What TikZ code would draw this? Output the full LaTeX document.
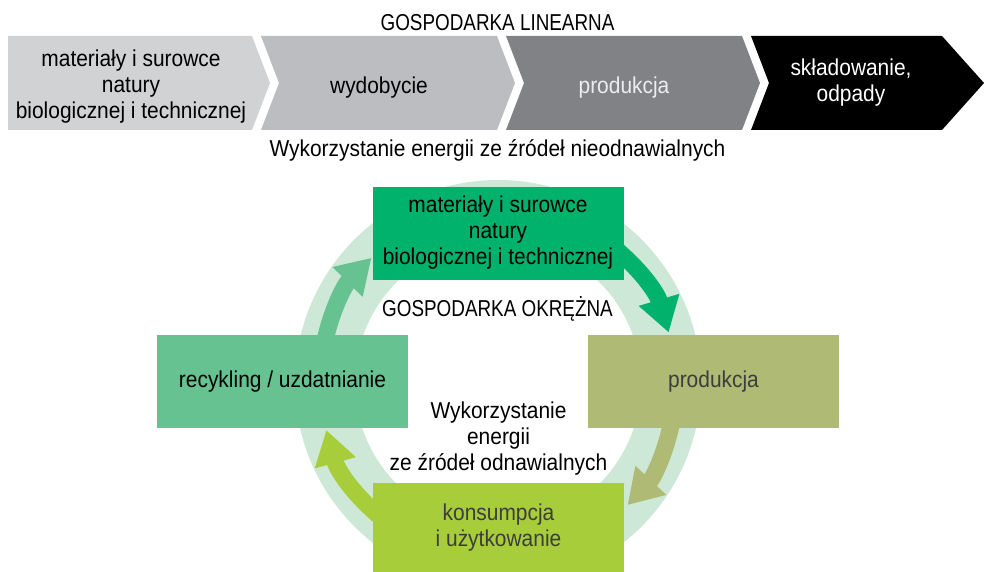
\documentclass[tikz,border=0pt]{standalone}
\usepackage{fontspec}
\setmainfont{Liberation Sans}[FakeStretch=0.91]
\newfontfamily\capsfont{Liberation Sans}[FakeStretch=0.82]
\usetikzlibrary{arrows.meta,calc}

% linear economy strip
\definecolor{linA}{HTML}{D1D2D4}
\definecolor{linB}{HTML}{BCBDC0}
\definecolor{linC}{HTML}{808285}
\definecolor{linD}{HTML}{000000}
\definecolor{linTxt}{HTML}{EDEDED}
% circular economy
\definecolor{ringc}{HTML}{CDE8D7}
\definecolor{cirTop}{HTML}{00B26B}
\definecolor{cirRec}{HTML}{66C290}
\definecolor{cirProd}{HTML}{AFBA74}
\definecolor{cirCons}{HTML}{A8CD3A}
\definecolor{txtDark}{HTML}{3D3D3D}

\begin{document}
\begin{tikzpicture}[x=1pt,y=-1pt,
  lbl/.style={font=\fontsize{23}{26}\selectfont, align=center, inner sep=0pt},
  ttl/.style={font=\capsfont\fontsize{23}{26}\selectfont, inner sep=0pt, anchor=base},
  cbox/.style={minimum width=251pt, minimum height=93pt, inner sep=0pt, align=center,
               font=\fontsize{23}{26}\selectfont},
  flow/.style={line width=17pt, -{Triangle[width=40pt,length=34pt]}},
]
\useasboundingbox (0,0) rectangle (984,572);

% ---------- linear economy ----------
\node[ttl] (lt) at (497.5,31) {GOSPODARKA LINEARNA};

\fill[linA] (8,36) -- (252,36) -- (270,83) -- (252,130) -- (8,130) -- cycle;
\fill[linB] (261,36) -- (497,36) -- (515,83) -- (497,130) -- (261,130) -- (279,83) -- cycle;
\fill[linC] (506,36) -- (742,36) -- (760,83) -- (742,130) -- (506,130) -- (524,83) -- cycle;
\fill[linD] (751,36) -- (942,36) -- (984,83) -- (942,130) -- (751,130) -- (769,83) -- cycle;

\node[lbl] (l1) at (131,87) {materiały i surowce\\natury\\biologicznej i technicznej};
\node[lbl] (l2) at (379,88) {wydobycie};
\node[lbl, text=linTxt] (l3) at (624,88) {produkcja};
\node[lbl, text=white] (l4) at (851,82.5) {składowanie,\\odpady};

\node[lbl, anchor=base] (lsub) at (497.5,157) {Wykorzystanie energii ze źródeł nieodnawialnych};

% ---------- circular economy ----------
\coordinate (c) at (498,383);
\draw[ringc, line width=60pt] (c) circle[radius=173];

\coordinate (a1s) at ($(c)+(-60:178)$);
\coordinate (a2s) at ($(c)+(5:178)$);
\coordinate (a3s) at ($(c)+(120:178)$);
\coordinate (a4s) at ($(c)+(-175:178)$);
\draw[flow, cirTop]  (a1s) arc[start angle=-60,  end angle=-16.5, radius=178];
\draw[flow, cirProd] (a2s) arc[start angle=5,    end angle=43.3,  radius=178];
\draw[flow, cirCons] (a3s) arc[start angle=120,  end angle=164.7, radius=178];
\draw[flow, cirRec]  (a4s) arc[start angle=-175, end angle=-135.3, radius=178];

\node[cbox, fill=cirTop] (mat) at (498,233) {materiały i surowce\\natury\\biologicznej i technicznej};
\node[cbox, fill=cirRec] (rec) at (282.5,381.5) {recykling / uzdatnianie};
\node[cbox, fill=cirProd, text=txtDark] (prd) at (713.5,381.5) {produkcja};
\node[cbox, fill=cirCons, text=txtDark, minimum height=89pt] (con) at (498.5,527.5) {konsumpcja\\i użytkowanie};

\node[ttl] (ct) at (497.5,316.5) {GOSPODARKA OKRĘŻNA};
\node[lbl] (csub) at (498.5,439) {Wykorzystanie\\energii\\ze źródeł odnawialnych};
\end{tikzpicture}
\end{document}
